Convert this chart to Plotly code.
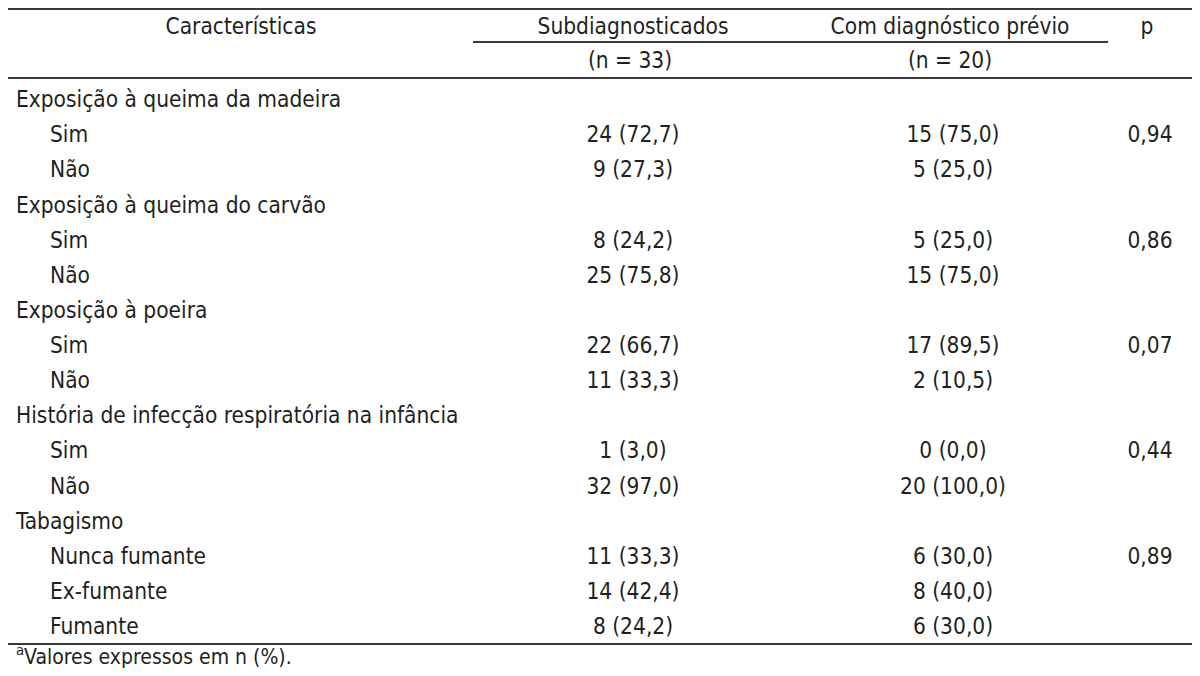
import plotly.graph_objects as go

# header
col_titles = ["Características", "Subdiagnosticados", "Com diagnóstico prévio", "p"]
col_counts = ["(n = 33)", "(n = 20)"]

# body
groups = [
    "Exposição à queima da madeira",
    "Exposição à queima do carvão",
    "Exposição à poeira",
    "História de infecção respiratória na infância",
    "Tabagismo",
]
group_items = [
    ["Sim", "Não"],
    ["Sim", "Não"],
    ["Sim", "Não"],
    ["Sim", "Não"],
    ["Nunca fumante", "Ex-fumante", "Fumante"],
]
subdiag = [
    ["24 (72,7)", "9 (27,3)"],
    ["8 (24,2)", "25 (75,8)"],
    ["22 (66,7)", "11 (33,3)"],
    ["1 (3,0)", "32 (97,0)"],
    ["11 (33,3)", "14 (42,4)", "8 (24,2)"],
]
prev_diag = [
    ["15 (75,0)", "5 (25,0)"],
    ["5 (25,0)", "15 (75,0)"],
    ["17 (89,5)", "2 (10,5)"],
    ["0 (0,0)", "20 (100,0)"],
    ["6 (30,0)", "8 (40,0)", "6 (30,0)"],
]
p_values = ["0,94", "0,86", "0,07", "0,44", "0,89"]
footnote = "<sup>a</sup>Valores expressos em n (%)."

FONT = "DejaVu Sans Condensed"
SIZE = 22.5
INK = "#231f20"
# page has an 8px body margin; map axis units to page pixels
PAD = 8
W, H = 1200, 676

x_group, x_item = 16, 50
x_sub, x_prev, x_p = 633, 953, 1150
x_head = [241, 633, 950, 1147]
y_first, step = 101.5, 35.13

# flatten rows
lab_g, y_g = [], []
lab_i, y_i = [], []
sub_t, prev_t, y_v = [], [], []
p_t, y_p = [], []
r = 0
for g, items, s, pv, p in zip(groups, group_items, subdiag, prev_diag, p_values):
    lab_g.append(g)
    y_g.append(y_first + r * step)
    r += 1
    for k, it in enumerate(items):
        y = y_first + r * step
        lab_i.append(it)
        y_i.append(y)
        sub_t.append(s[k])
        prev_t.append(pv[k])
        y_v.append(y)
        if k == 0:
            p_t.append(p)
            y_p.append(y)
        r += 1

font = dict(family=FONT, size=SIZE, color=INK)

fig = go.Figure()


def add_text(xs, ys, texts, pos, size=SIZE):
    fig.add_trace(go.Scatter(
        x=xs, y=ys, text=texts, mode="text", textposition=pos,
        textfont=dict(font, size=size), hoverinfo="skip",
        showlegend=False, cliponaxis=False))


add_text(x_head, [28] * 4, col_titles, "middle center")
add_text([630, 950], [62, 62], col_counts, "middle center")
add_text([x_group] * len(lab_g), y_g, lab_g, "middle right")
add_text([x_item] * len(lab_i), y_i, lab_i, "middle right")
add_text([x_sub] * len(sub_t), y_v, sub_t, "middle center")
add_text([x_prev] * len(prev_t), y_v, prev_t, "middle center")
add_text([x_p] * len(p_t), y_p, p_t, "middle center")
add_text([x_group], [659], [footnote], "middle right", size=21)

rule = dict(color="#3a3a3a", width=2)
for x0, x1, y in [(5, 1195, 9), (473, 1108, 42), (5, 1195, 78), (5, 1195, 644)]:
    fig.add_shape(type="line", x0=x0, x1=x1, y0=y, y1=y, line=rule)

fig.update_layout(
    width=W - 2 * PAD, height=H - 2 * PAD,
    margin=dict(l=0, r=0, t=0, b=0),
    paper_bgcolor="white", plot_bgcolor="white",
    xaxis=dict(range=[PAD, W - PAD], visible=False, fixedrange=True),
    yaxis=dict(range=[H - PAD, PAD], visible=False, fixedrange=True),
)

fig.write_html("out.html")
